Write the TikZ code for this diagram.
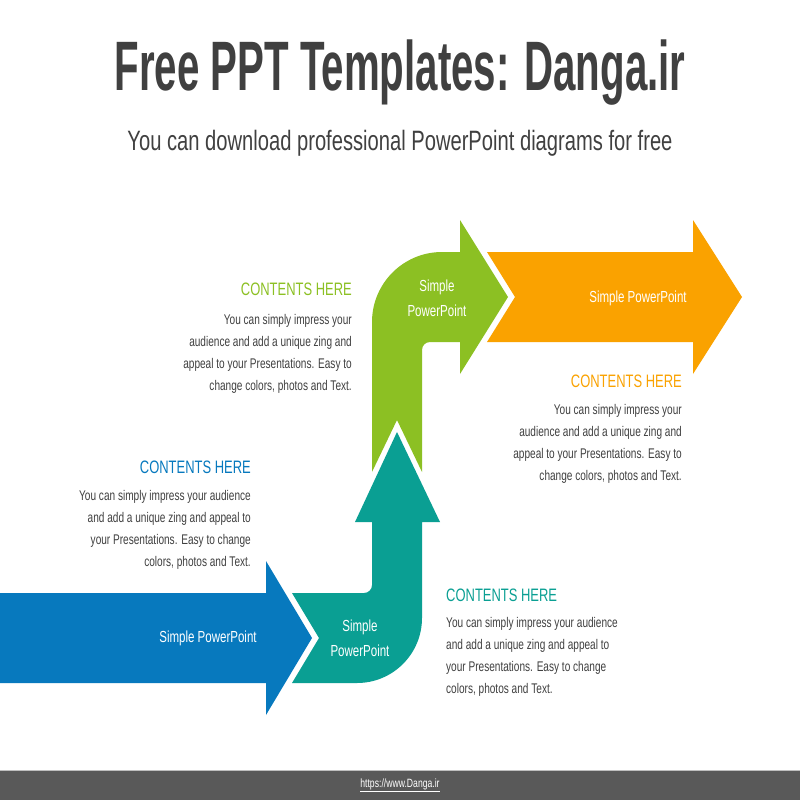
\documentclass[tikz,border=0pt]{standalone}
\usepackage{fontspec}
\setmainfont[FakeStretch=0.72]{Liberation Sans}
\newfontfamily\titlefont[FakeStretch=0.575]{Liberation Sans}
\definecolor{cblue}{HTML}{0779BE}
\definecolor{cteal}{HTML}{0A9F93}
\definecolor{cgreen}{HTML}{8CC023}
\definecolor{corange}{HTML}{FAA200}
\definecolor{ctext}{HTML}{404040}
\definecolor{cfoot}{HTML}{595959}
\begin{document}
\begin{tikzpicture}[x=1pt,y=-1pt,
  lbl/.style={text=white,font=\fontsize{16}{25}\selectfont,align=center,inner sep=0},
  head/.style={font=\fontsize{18}{20}\selectfont,inner sep=0},
  bodyr/.style={text=ctext,font=\fontsize{14}{21.9}\selectfont,align=right,inner sep=0,anchor=north east},
  bodyl/.style={text=ctext,font=\fontsize{14}{21.9}\selectfont,align=left,inner sep=0,anchor=north west}]
\useasboundingbox (0,0) rectangle (800,800);
\fill[white] (0,0) rectangle (800,800);
% title
\node[anchor=base,text=ctext,font=\fontsize{70}{72}\titlefont\bfseries,inner sep=0] (title) at (400,90) {Free PPT Templates: Danga.ir};
\node[anchor=base,text=ctext,font=\fontsize{28}{32}\selectfont,inner sep=0] (sub) at (400,150) {You can download professional PowerPoint diagrams for free};
% blue arrow
\fill[cblue] (0,593) -- (266,593) -- (266,561) -- (312,638) -- (266,715) -- (266,683) -- (0,683) -- cycle;
% teal bent arrow
\fill[cteal] (292,593) -- (364,593) arc[start angle=90,end angle=0,radius=8] -- (372,522) -- (355,522) -- (397,432) -- (440,522) -- (422,522) -- (422,618) arc[start angle=0,end angle=90,radius=65] -- (292,683) -- (319,638) -- cycle;
% green bent arrow
\fill[cgreen] (372,472) -- (372,322) arc[start angle=180,end angle=270,radius=70] -- (460,252) -- (460,220) -- (508,297) -- (460,374) -- (460,342) -- (430,342) arc[start angle=270,end angle=180,radius=8] -- (422,472) -- (397,420) -- cycle;
% orange arrow
\fill[corange] (487,252) -- (693,252) -- (693,220) -- (742,297) -- (693,374) -- (693,342) -- (487,342) -- (515,297) -- cycle;
% arrow labels
\node[lbl] (l1) at (208,638) {Simple PowerPoint};
\node[lbl] (l2) at (360,638) {Simple\\PowerPoint};
\node[lbl] (l3) at (437,298) {Simple\\PowerPoint};
\node[lbl] (l4) at (638,298) {Simple PowerPoint};
% text blocks
\node[head,text=cgreen,anchor=base east] (h1) at (352,295) {CONTENTS HERE};
\node[bodyr] (b1) at (352,314.5) {You can simply impress your\\audience and add a unique zing and\\appeal to your Presentations. Easy to\\change colors, photos and Text.};
\node[head,text=cblue,anchor=base east] (h2) at (251,473) {CONTENTS HERE};
\node[bodyr] (b2) at (251,490.5) {You can simply impress your audience\\and add a unique zing and appeal to\\your Presentations. Easy to change\\colors, photos and Text.};
\node[head,text=corange,anchor=base east] (h3) at (682,387) {CONTENTS HERE};
\node[bodyr] (b3) at (682,404.5) {You can simply impress your\\audience and add a unique zing and\\appeal to your Presentations. Easy to\\change colors, photos and Text.};
\node[head,text=cteal,anchor=base west] (h4) at (446,601) {CONTENTS HERE};
\node[bodyl] (b4) at (446,617.5) {You can simply impress your audience\\and add a unique zing and appeal to\\your Presentations. Easy to change\\colors, photos and Text.};
% footer
\fill[cfoot] (0,770) rectangle (800,800);
\draw[gray!50,line width=1] (0,770) -- (800,770);
\node[text=white,font=\fontsize{12}{14}\selectfont,inner sep=0] (url) at (400,785) {\underline{https://www.Danga.ir}};
\end{tikzpicture}
\end{document}
